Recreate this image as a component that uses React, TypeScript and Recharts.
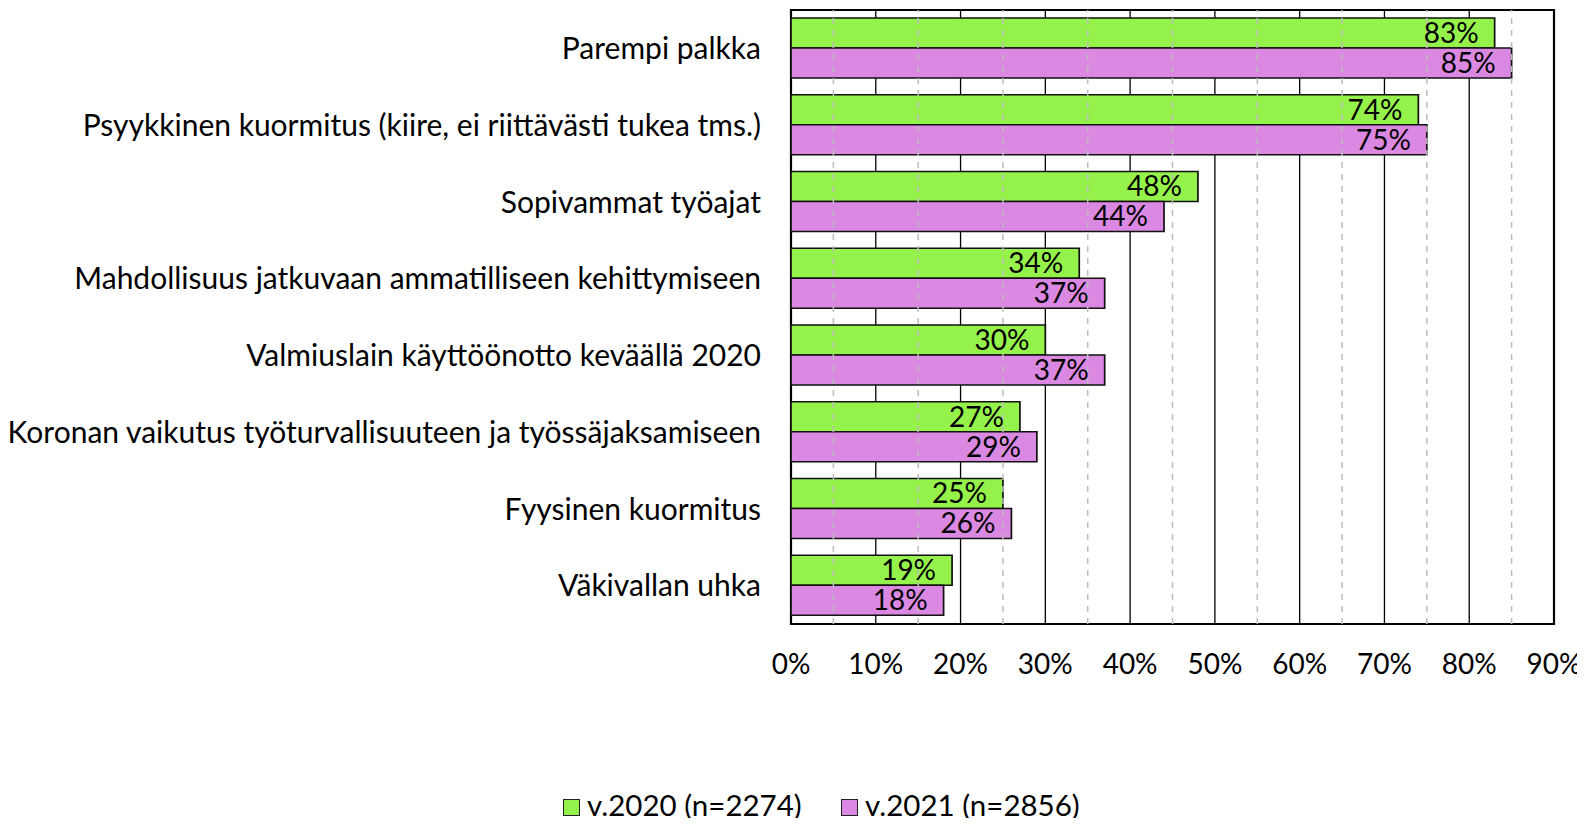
import React from "react";
import {
  BarChart,
  Bar,
  XAxis,
  YAxis,
  CartesianGrid,
  ReferenceLine,
  ReferenceArea,
  LabelList,
} from "recharts";

const categories = [
  "Parempi palkka",
  "Psyykkinen kuormitus (kiire, ei riittävästi tukea tms.)",
  "Sopivammat työajat",
  "Mahdollisuus jatkuvaan ammatilliseen kehittymiseen",
  "Valmiuslain käyttöönotto keväällä 2020",
  "Koronan vaikutus työturvallisuuteen ja työssäjaksamiseen",
  "Fyysinen kuormitus",
  "Väkivallan uhka",
];
const values2020 = [83, 74, 48, 34, 30, 27, 25, 19];
const values2021 = [85, 75, 44, 37, 37, 29, 26, 18];
const xTicks = [0, 10, 20, 30, 40, 50, 60, 70, 80, 90];
const dashedTicks = [5, 15, 25, 35, 45, 55, 65, 75, 85];

const GREEN = "#95f24b";
const PINK = "#db88e2";
const FONT = "Lato, 'Open Sans', sans-serif";

const data = categories.map((name, i) => ({
  name,
  v2020: values2020[i],
  v2021: values2021[i],
}));

// legend drawn by hand: square + text, placed like the original
function LegendItem({ color, text, left }: { color: string; text: string; left: number }) {
  return (
    <>
      <div
        style={{
          position: "absolute",
          left,
          top: 791,
          width: 15,
          height: 15,
          background: color,
          border: "1.5px solid #222",
        }}
      />
      <span
        style={{
          position: "absolute",
          left: left + 24,
          top: 782,
          fontFamily: FONT,
          fontSize: 29.5,
          lineHeight: 1,
          color: "#000",
          whiteSpace: "nowrap",
        }}
      >
        {text}
      </span>
    </>
  );
}

export default function App() {
  return (
    <div style={{ position: "relative", width: 1575, height: 810, fontFamily: FONT }}>
      <BarChart
        width={1575}
        height={680}
        data={data}
        layout="vertical"
        margin={{ top: 2, right: 29, bottom: 34, left: 0 }}
        barCategoryGap={8}
        barGap={0}
      >
        <CartesianGrid horizontal={false} vertical stroke="#000" strokeWidth={1.3} />
        {dashedTicks.map((t) => (
          <ReferenceLine key={t} x={t} stroke="#bdbdbd" strokeDasharray="6 6" strokeWidth={1.5} />
        ))}
        <XAxis
          type="number"
          domain={[0, 90]}
          ticks={xTicks}
          tickFormatter={(v) => `${v}%`}
          axisLine={false}
          tickLine={false}
          tickSize={0}
          tickMargin={30}
          height={30}
          interval={0}
          tick={{ fill: "#000", fontSize: 28, fontFamily: FONT }}
        />
        <YAxis
          type="category"
          dataKey="name"
          width={783}
          axisLine={false}
          tickLine={false}
          tickSize={0}
          tickMargin={30}
          interval={0}
          tick={{ fill: "#000", fontSize: 30, fontFamily: FONT }}
        />
        <Bar dataKey="v2020" fill={GREEN} stroke="#111" strokeWidth={1.7} isAnimationActive={false}>
          <LabelList
            dataKey="v2020"
            position="insideRight"
            offset={16}
            formatter={(v: number) => `${v}%`}
            style={{ fill: "#000", fontSize: 28, fontFamily: FONT }}
          />
        </Bar>
        <Bar dataKey="v2021" fill={PINK} stroke="#111" strokeWidth={1.7} isAnimationActive={false}>
          <LabelList
            dataKey="v2021"
            position="insideRight"
            offset={16}
            formatter={(v: number) => `${v}%`}
            style={{ fill: "#000", fontSize: 28, fontFamily: FONT }}
          />
        </Bar>
        <ReferenceArea
          x1={0}
          x2={90}
          fill="none"
          stroke="#000"
          strokeWidth={2.2}
          fillOpacity={0}
          ifOverflow="visible"
        />
      </BarChart>
      <LegendItem color={GREEN} text="v.2020 (n=2274)" left={555} />
      <LegendItem color={PINK} text="v.2021 (n=2856)" left={833} />
    </div>
  );
}
